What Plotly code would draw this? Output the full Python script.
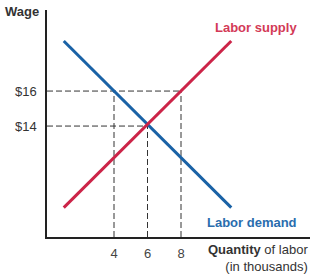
import plotly.graph_objects as go

# Data
demand_x = [1.0, 11.0]
demand_y = [18.86, 9.34]
supply_x = [1.0, 11.0]
supply_y = [9.34, 18.86]

wage_ticks = [14, 16]
wage_labels = ["$14", "$16"]
qty_ticks = [4, 6, 8]
qty_labels = ["4", "6", "8"]

# Guide lines (equilibrium and surplus/shortage points)
guide_h_x = [[0, 8], [0, 6]]
guide_h_y = [[16, 16], [14, 14]]
guide_v_x = [[4, 4], [6, 6], [8, 8]]
guide_v_y = [[7.66, 16], [7.66, 14], [7.66, 16]]

RED = "#CC2448"
BLUE = "#1A62A6"
DASH = "#333333"

fig = go.Figure()

for xs, ys in zip(guide_h_x + guide_v_x, guide_h_y + guide_v_y):
    fig.add_trace(go.Scatter(x=xs, y=ys, mode="lines",
                             line=dict(color=DASH, width=1, dash="6px,3px"),
                             hoverinfo="skip", showlegend=False))

fig.add_trace(go.Scatter(x=demand_x, y=demand_y, mode="lines",
                         line=dict(color=BLUE, width=3), showlegend=False))
fig.add_trace(go.Scatter(x=supply_x, y=supply_y, mode="lines",
                         line=dict(color=RED, width=3), showlegend=False))

W, H = 317, 279
L, R, T, B = 47, 7, 10, 42
pw, ph = W - L - R, H - T - B

def px(xp):
    return (xp - L) / pw

def py(yp):
    return (H - B - yp) / ph

font_family = "Liberation Sans, Arial, sans-serif"

fig.add_annotation(x=px(41), y=py(12), xref="paper", yref="paper",
                   text="<b>Wage</b>", showarrow=False, xanchor="right",
                   yanchor="middle", font=dict(size=13, color="#333", family=font_family))
fig.add_annotation(x=px(299), y=py(28), xref="paper", yref="paper",
                   text="<b>Labor supply</b>", showarrow=False, xanchor="right",
                   yanchor="middle", font=dict(size=13, color="#D33A57", family=font_family))
fig.add_annotation(x=px(299), y=py(222), xref="paper", yref="paper",
                   text="<b>Labor demand</b>", showarrow=False, xanchor="right",
                   yanchor="middle", font=dict(size=13, color="#2A6DAE", family=font_family))
fig.add_annotation(x=px(310), y=py(258), xref="paper", yref="paper",
                   text="<b>Quantity</b> of labor<br>(in thousands)", showarrow=False,
                   xanchor="right", yanchor="middle", align="right",
                   font=dict(size=13, color="#333", family=font_family))

fig.update_layout(
    width=W, height=H,
    margin=dict(l=L, r=R, t=T, b=B),
    plot_bgcolor="white", paper_bgcolor="white",
    font=dict(family=font_family, size=13, color="#333"),
    xaxis=dict(range=[0, pw / 16.75], tickvals=qty_ticks, ticktext=qty_labels,
               showgrid=False, zeroline=False, showline=True,
               linecolor="#222", linewidth=1.5, ticks="", ticklabelstandoff=4,
               fixedrange=True, tickfont=dict(size=13, color="#444")),
    yaxis=dict(range=[7.66, 7.66 + ph / 17.5], tickvals=wage_ticks, ticktext=wage_labels,
               showgrid=False, zeroline=False, showline=True,
               linecolor="#222", linewidth=1.5, ticks="", ticklabelstandoff=6,
               fixedrange=True, tickfont=dict(size=13, color="#333")),
)

fig.write_html("out.html")
